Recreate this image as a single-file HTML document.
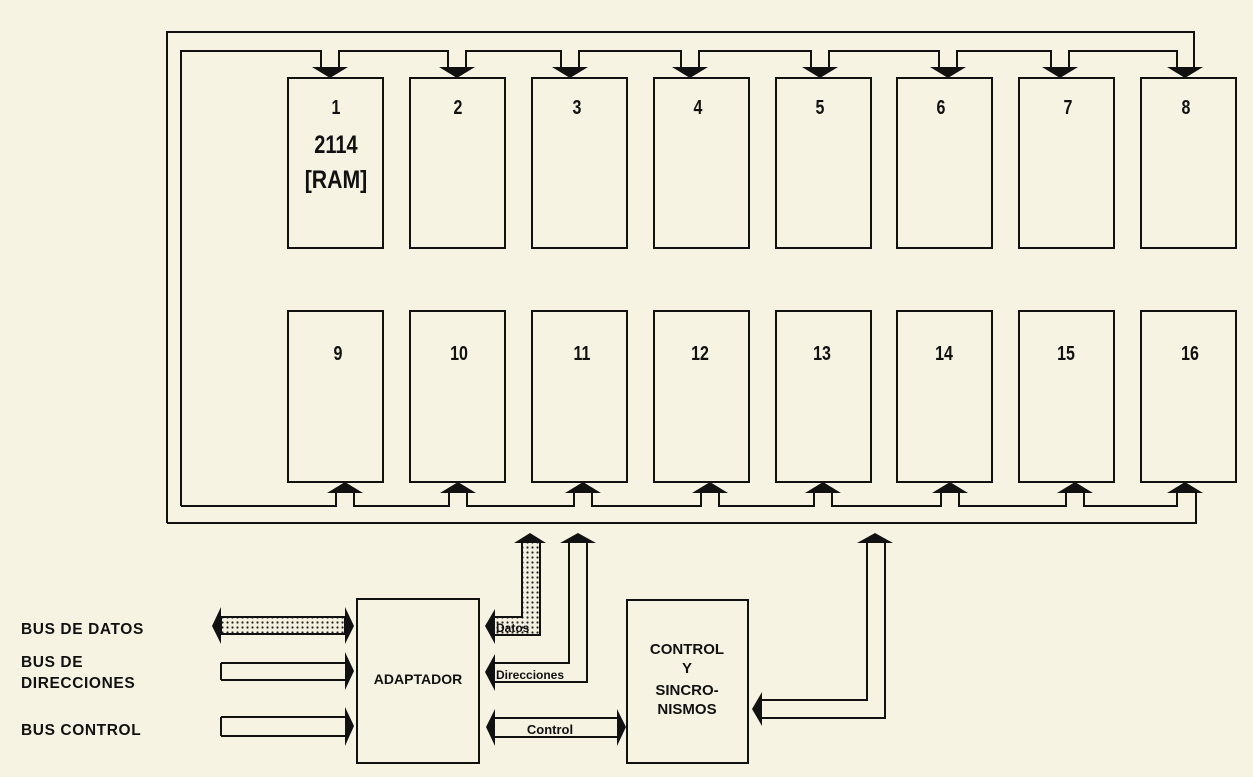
<!DOCTYPE html>
<html><head><meta charset="utf-8"><style>
html,body{margin:0;padding:0;background:#f7f3e3;}
svg{display:block}
text{font-family:"Liberation Sans",sans-serif;fill:#111}
</style></head><body>
<svg width="1253" height="777" viewBox="0 0 1253 777" xmlns="http://www.w3.org/2000/svg">
<defs>
<pattern id="dots" width="5" height="5" patternUnits="userSpaceOnUse">
<rect width="5" height="5" fill="#f4f0e0"/>
<circle cx="2.5" cy="2.5" r="1.1" fill="#222"/>
</pattern>
</defs>
<rect width="1253" height="777" fill="#f7f3e3"/>
<g fill="none" stroke="#111" stroke-width="2">
<path d="M167,523 L167,32 L1194,32 L1194,68"/>
<path d="M167,523 L1196,523 L1196,492"/>
<path d="M181,506 L181,51 L321,51 L321,68 M339,68 L339,51 L448,51 L448,68 M466,68 L466,51 L561,51 L561,68 M579,68 L579,51 L681,51 L681,68 M699,68 L699,51 L811,51 L811,68 M829,68 L829,51 L939,51 L939,68 M957,68 L957,51 L1051,51 L1051,68 M1069,68 L1069,51 L1177,51 L1177,68"/>
<path d="M181,506 L336,506 L336,492 M354,492 L354,506 L449,506 L449,492 M467,492 L467,506 L574,506 L574,492 M592,492 L592,506 L701,506 L701,492 M719,492 L719,506 L814,506 L814,492 M832,492 L832,506 L941,506 L941,492 M959,492 L959,506 L1066,506 L1066,492 M1084,492 L1084,506 L1177,506 L1177,492"/>
</g>
<g fill="#111">
<polygon points="312,67 348,67 330,78"/>
<polygon points="439,67 475,67 457,78"/>
<polygon points="552,67 588,67 570,78"/>
<polygon points="672,67 708,67 690,78"/>
<polygon points="802,67 838,67 820,78"/>
<polygon points="930,67 966,67 948,78"/>
<polygon points="1042,67 1078,67 1060,78"/>
<polygon points="1167,67 1203,67 1185,78"/>
<polygon points="327,493 363,493 345,482"/>
<polygon points="440,493 476,493 458,482"/>
<polygon points="565,493 601,493 583,482"/>
<polygon points="692,493 728,493 710,482"/>
<polygon points="805,493 841,493 823,482"/>
<polygon points="932,493 968,493 950,482"/>
<polygon points="1057,493 1093,493 1075,482"/>
<polygon points="1167,493 1203,493 1185,482"/>
</g>
<g fill="none" stroke="#111" stroke-width="2">
<rect x="288" y="78" width="95" height="170"/>
<rect x="410" y="78" width="95" height="170"/>
<rect x="532" y="78" width="95" height="170"/>
<rect x="654" y="78" width="95" height="170"/>
<rect x="776" y="78" width="95" height="170"/>
<rect x="897" y="78" width="95" height="170"/>
<rect x="1019" y="78" width="95" height="170"/>
<rect x="1141" y="78" width="95" height="170"/>
<rect x="288" y="311" width="95" height="171"/>
<rect x="410" y="311" width="95" height="171"/>
<rect x="532" y="311" width="95" height="171"/>
<rect x="654" y="311" width="95" height="171"/>
<rect x="776" y="311" width="95" height="171"/>
<rect x="897" y="311" width="95" height="171"/>
<rect x="1019" y="311" width="95" height="171"/>
<rect x="1141" y="311" width="95" height="171"/>
<rect x="357" y="599" width="122" height="164"/>
<rect x="627" y="600" width="121" height="163"/>
</g>
<g font-weight="bold" font-size="20" text-anchor="middle">
<text x="336" y="114" transform="translate(336 0) scale(0.8 1) translate(-336 0)">1</text>
<text x="458" y="114" transform="translate(458 0) scale(0.8 1) translate(-458 0)">2</text>
<text x="577" y="114" transform="translate(577 0) scale(0.8 1) translate(-577 0)">3</text>
<text x="698" y="114" transform="translate(698 0) scale(0.8 1) translate(-698 0)">4</text>
<text x="820" y="114" transform="translate(820 0) scale(0.8 1) translate(-820 0)">5</text>
<text x="941" y="114" transform="translate(941 0) scale(0.8 1) translate(-941 0)">6</text>
<text x="1068" y="114" transform="translate(1068 0) scale(0.8 1) translate(-1068 0)">7</text>
<text x="1186" y="114" transform="translate(1186 0) scale(0.8 1) translate(-1186 0)">8</text>
<text x="338" y="360" transform="translate(338 0) scale(0.8 1) translate(-338 0)">9</text>
<text x="459" y="360" transform="translate(459 0) scale(0.8 1) translate(-459 0)">10</text>
<text x="582" y="360" transform="translate(582 0) scale(0.8 1) translate(-582 0)">11</text>
<text x="700" y="360" transform="translate(700 0) scale(0.8 1) translate(-700 0)">12</text>
<text x="822" y="360" transform="translate(822 0) scale(0.8 1) translate(-822 0)">13</text>
<text x="944" y="360" transform="translate(944 0) scale(0.8 1) translate(-944 0)">14</text>
<text x="1066" y="360" transform="translate(1066 0) scale(0.8 1) translate(-1066 0)">15</text>
<text x="1190" y="360" transform="translate(1190 0) scale(0.8 1) translate(-1190 0)">16</text>
</g>
<g font-size="25" text-anchor="middle">
<text x="336" y="153" font-weight="bold" transform="translate(336 0) scale(0.8 1) translate(-336 0)">2114</text>
<text x="336" y="188" font-weight="bold" transform="translate(336 0) scale(0.85 1) translate(-336 0)">[RAM]</text>
</g>
<path d="M522,542 L522,617 L495,617 L495,635 L540,635 L540,542 Z" fill="url(#dots)" stroke="none"/>
<path d="M522,542 L522,617 L495,617 M495,635 L540,635 L540,542" fill="none" stroke="#111" stroke-width="2"/>
<polygon points="514,543 546,543 530,533" fill="#111"/>
<polygon points="495,609 495,644 485,626" fill="#111"/>
<text x="496" y="632" font-size="12" font-weight="bold">Datos</text>
<path d="M569,542 L569,663 L495,663 M495,682 L587,682 L587,542" fill="none" stroke="#111" stroke-width="2"/>
<polygon points="560,543 596,543 578,533" fill="#111"/>
<polygon points="495,654 495,691 485,672" fill="#111"/>
<text x="496" y="679" font-size="12" font-weight="bold">Direcciones</text>
<path d="M495,718 L617,718 M495,737 L617,737" fill="none" stroke="#111" stroke-width="2"/>
<polygon points="495,709 495,746 486,727" fill="#111"/>
<polygon points="617,709 617,746 626,727" fill="#111"/>
<text x="550" y="734" font-size="13" font-weight="bold" text-anchor="middle">Control</text>
<path d="M867,542 L867,700 L762,700 M762,718 L885,718 L885,542" fill="none" stroke="#111" stroke-width="2"/>
<polygon points="857,543 893,543 875,533" fill="#111"/>
<polygon points="762,692 762,726 752,709" fill="#111"/>
<rect x="221" y="617" width="124" height="17" fill="url(#dots)" stroke="#111" stroke-width="2"/>
<polygon points="221,607 221,644 212,626" fill="#111"/>
<polygon points="345,607 345,644 354,626" fill="#111"/>
<path d="M221,663 L345,663 M221,680 L345,680 M221,663 L221,680" fill="none" stroke="#111" stroke-width="2"/>
<polygon points="345,652 345,690 354,671" fill="#111"/>
<path d="M221,717 L345,717 M221,736 L345,736 M221,717 L221,736" fill="none" stroke="#111" stroke-width="2"/>
<polygon points="345,707 345,746 354,726" fill="#111"/>
<text x="418" y="684" font-size="14" font-weight="bold" text-anchor="middle">ADAPTADOR</text>
<g font-size="15" text-anchor="middle" font-weight="bold">
<text x="687" y="654">CONTROL</text>
<text x="687" y="673">Y</text>
<text x="687" y="695">SINCRO-</text>
<text x="687" y="714">NISMOS</text>
</g>
<g font-size="15.5" letter-spacing="0.6" font-weight="bold">
<text x="21" y="634">BUS DE DATOS</text>
<text x="21" y="667">BUS DE</text>
<text x="21" y="688">DIRECCIONES</text>
<text x="21" y="735">BUS CONTROL</text>
</g>
</svg>
</body></html>
